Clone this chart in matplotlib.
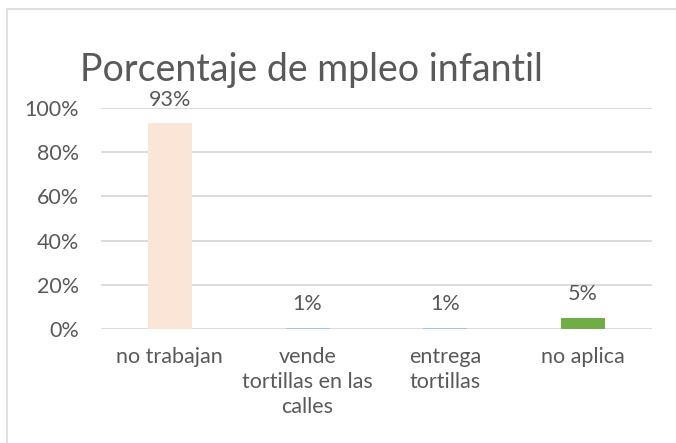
import matplotlib
matplotlib.use("Agg")
import matplotlib.pyplot as plt
from matplotlib.patches import Rectangle

categories = ["no trabajan", "vende\ntortillas en las\ncalles", "entrega\ntortillas", "no aplica"]
values = [93, 0.6, 0.6, 5]
bar_colors = ["#fbe5d6", "#9dc3e6", "#9dc3e6", "#70ad47"]
yticks = [0, 20, 40, 60, 80, 100]

plt.rcParams["font.family"] = ["Lato", "DejaVu Sans"]
txt = "#595959"
fs = 15.5

fig = plt.figure(figsize=(6.76, 4.43), dpi=100)
W, H = 676, 443

# chart frame
fig.patches.append(Rectangle((7 / W, -0.1), 1.0, 1 - 9 / H + 0.1, transform=fig.transFigure,
                             fill=False, edgecolor="#d9d9d9", linewidth=1.2))

ax = fig.add_axes([101 / W, (H - 329) / H, 551 / W, 221 / H])
x = range(len(categories))
ax.bar(x, values, width=0.32, color=bar_colors, zorder=3)
ax.set_ylim(0, 100)
ax.set_xlim(-0.5, len(categories) - 0.5)
ax.set_yticks(yticks)
ax.set_yticklabels([f"{t}%" for t in yticks], fontsize=fs, color=txt)
ax.set_xticks(list(x))
ax.set_xticklabels(categories, fontsize=fs, color=txt, linespacing=1.3, va="top")
ax.tick_params(axis="both", length=0)
ax.tick_params(axis="y", pad=16)
ax.tick_params(axis="x", pad=13)
ax.grid(axis="y", color="#d9d9d9", linewidth=1.3, zorder=0)
for s in ax.spines.values():
    s.set_visible(False)

for i, v in enumerate(values):
    ax.annotate(f"{v:.0f}%", (i, v), xytext=(0, 10), textcoords="offset points",
                ha="center", va="bottom", fontsize=fs, color=txt)

fig.text(80 / W, 1 - 70 / H, "Porcentaje de mpleo infantil", fontsize=27, color=txt,
         ha="left", va="center")

fig.savefig("out.png", dpi=100)
